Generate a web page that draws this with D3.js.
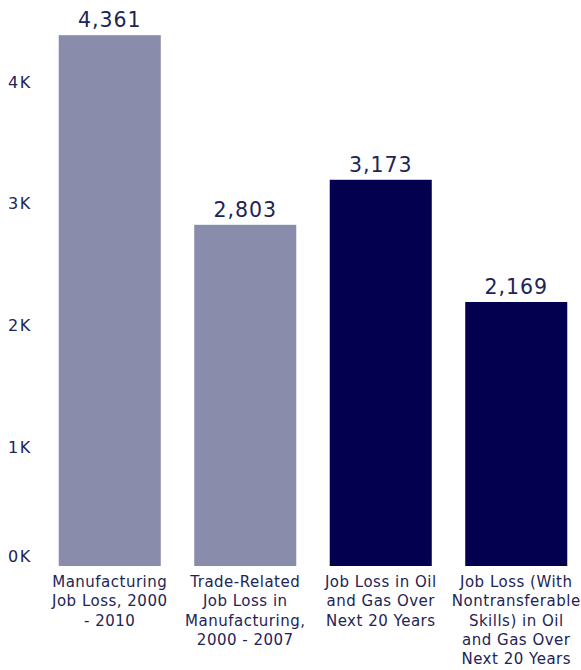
<!DOCTYPE html>
<html>
<head>
<meta charset="utf-8">
<script src="https://cdn.jsdelivr.net/npm/d3@7"></script>
<style>
  html, body { margin: 0; padding: 0; background: #fff; }
  svg { display: block; font-family: "DejaVu Sans", Verdana, sans-serif; }
</style>
</head>
<body>
<svg id="chart" width="581" height="670"></svg>
<script>
const categories = [
  ["Manufacturing", "Job Loss, 2000", "- 2010"],
  ["Trade-Related", "Job Loss in", "Manufacturing,", "2000 - 2007"],
  ["Job Loss in Oil", "and Gas Over", "Next 20 Years"],
  ["Job Loss (With", "Nontransferable", "Skills) in Oil", "and Gas Over", "Next 20 Years"]
];
const values = [4361, 2803, 3173, 2169];
const groups = ["manufacturing", "manufacturing", "oilgas", "oilgas"];
const tickValues = [0, 1000, 2000, 3000, 4000];
const tickLabels = ["0K", "1K", "2K", "3K", "4K"];

const colors = { manufacturing: "#8a8cab", oilgas: "#03014f" };
const textColor = "#1e2455";

const svg = d3.select("#chart");
const ids = categories.map((c, i) => i);

const x = d3.scaleBand().domain(ids).range([42, 584]).paddingInner(0.247).paddingOuter(0.1235);
const y = d3.scaleLinear().domain([0, 4650]).range([566, 0]);

// bars
svg.append("g").selectAll("rect").data(values).join("rect")
  .attr("x", (d, i) => x(i))
  .attr("width", x.bandwidth())
  .attr("y", d => y(d))
  .attr("height", d => y(0) - y(d))
  .attr("fill", (d, i) => colors[groups[i]]);

// value labels
svg.append("g").selectAll("text").data(values).join("text")
  .attr("x", (d, i) => x(i) + x.bandwidth() / 2)
  .attr("y", d => y(d) - 8)
  .attr("text-anchor", "middle")
  .attr("font-size", 20.5)
  .attr("letter-spacing", 1)
  .attr("fill", textColor)
  .text(d => d3.format(",")(d));

// y tick labels
svg.append("g").selectAll("text").data(tickValues).join("text")
  .attr("x", 8)
  .attr("y", d => y(d) + (d === 0 ? -10 : 3))
  .attr("dominant-baseline", "central")
  .attr("font-size", 16)
  .attr("letter-spacing", 1.5)
  .attr("fill", textColor)
  .text((d, i) => tickLabels[i]);

// category labels
const cat = svg.append("g").selectAll("text").data(categories).join("text")
  .attr("x", (d, i) => x(i) + x.bandwidth() / 2)
  .attr("y", 587)
  .attr("text-anchor", "middle")
  .attr("font-size", 15)
  .attr("letter-spacing", 0.5)
  .attr("fill", textColor);
cat.selectAll("tspan").data(d => d).join("tspan")
  .attr("x", function() { return d3.select(this.parentNode).attr("x"); })
  .attr("dy", (d, j) => j === 0 ? 0 : 19.3)
  .text(d => d);
</script>
</body>
</html>
